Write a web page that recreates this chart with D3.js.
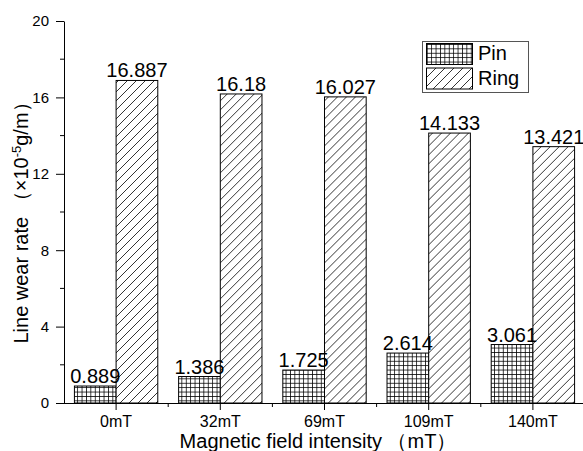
<!DOCTYPE html>
<html>
<head>
<meta charset="utf-8">
<title>Line wear rate</title>
<script src="https://cdn.jsdelivr.net/npm/d3@7"></script>
<style>
  body { margin: 0; background: #fff; }
  svg text { font-family: "Liberation Sans", Arial, sans-serif; fill: #000; }
</style>
</head>
<body>
<div id="chart"></div>
<script>
// data
var fields = ["0mT", "32mT", "69mT", "109mT", "140mT"];
var pin = [0.889, 1.386, 1.725, 2.614, 3.061];
var ring = [16.887, 16.18, 16.027, 14.133, 13.421];
var seriesNames = ["Pin", "Ring"];
var yTicks = [0, 4, 8, 12, 16, 20];
var yMinor = [2, 6, 10, 14, 18];

var W = 583, H = 451;
var svg = d3.select('#chart').append('svg')
    .attr('width', W).attr('height', H);

// patterns
var defs = svg.append('defs');
var grid = defs.append('pattern')
    .attr('id', 'grid')
    .attr('patternUnits', 'userSpaceOnUse')
    .attr('width', 4.4).attr('height', 4.4);
grid.append('rect').attr('width', 4.4).attr('height', 4.4).attr('fill', '#fff');
grid.append('path')
    .attr('d', 'M0,0.4 H4.4 M0.4,0 V4.4')
    .attr('stroke', '#000').attr('stroke-width', 0.8).attr('fill', 'none');

var hatch = defs.append('pattern')
    .attr('id', 'hatch')
    .attr('patternUnits', 'userSpaceOnUse')
    .attr('width', 9).attr('height', 9);
hatch.append('rect').attr('width', 9).attr('height', 9).attr('fill', '#fff');
hatch.append('path')
    .attr('d', 'M0,9 L9,0 M-2,2 L2,-2 M7,11 L11,7')
    .attr('stroke', '#000').attr('stroke-width', 0.8).attr('fill', 'none');

var fills = ['url(#grid)', 'url(#hatch)'];

// scales
var x = d3.scaleBand().domain(fields).range([64, 585]).padding(0);
var x1 = d3.scaleBand().domain(seriesNames).range([0, x.bandwidth()]).paddingOuter(0.25).paddingInner(0);
var y = d3.scaleLinear().domain([0, 20]).range([403, 21]);

// bars
var rows = fields.map(function(f, i) { return {field: f, vals: [pin[i], ring[i]]}; });
var groups = svg.selectAll('.grp').data(rows).enter().append('g')
    .attr('transform', function(d) { return 'translate(' + x(d.field) + ',0)'; });

groups.selectAll('rect').data(function(d) {
        return d.vals.map(function(v, j) { return {name: seriesNames[j], v: v, j: j}; });
    })
    .enter().append('rect')
    .attr('x', function(d) { return x1(d.name); })
    .attr('y', function(d) { return y(d.v); })
    .attr('width', x1.bandwidth())
    .attr('height', function(d) { return y(0) - y(d.v); })
    .attr('fill', function(d) { return fills[d.j]; })
    .attr('stroke', '#000')
    .attr('stroke-width', 1);

groups.selectAll('text.val').data(function(d) {
        return d.vals.map(function(v, j) { return {name: seriesNames[j], v: v}; });
    })
    .enter().append('text')
    .attr('class', 'val')
    .attr('x', function(d) { return x1(d.name) + x1.bandwidth() / 2; })
    .attr('y', function(d) { return y(d.v) - 3; })
    .attr('text-anchor', 'middle')
    .style('font-size', '20px')
    .text(function(d) { return d.v; });

// y axis
var yAxis = svg.append('g').attr('transform', 'translate(64,0)')
    .call(d3.axisLeft(y).tickValues(yTicks).tickSize(8).tickSizeOuter(0).tickPadding(7));
yAxis.selectAll('text').style('font-size', '15px');
yAxis.append('g').selectAll('line').data(yMinor).enter().append('line')
    .attr('x1', -4).attr('x2', 0)
    .attr('y1', function(d) { return y(d); }).attr('y2', function(d) { return y(d); })
    .attr('stroke', '#000');

// x axis
var xAxis = svg.append('g').attr('transform', 'translate(0,403)')
    .call(d3.axisBottom(x).tickSize(7).tickSizeOuter(0).tickPadding(6));
xAxis.select('.domain').attr('d', 'M64,0.5H583');
xAxis.selectAll('text').style('font-size', '16px');
xAxis.append('g').selectAll('line').data(fields.slice(1)).enter().append('line')
    .attr('x1', function(d) { return x(d); }).attr('x2', function(d) { return x(d); })
    .attr('y1', 0).attr('y2', 4)
    .attr('stroke', '#000');

svg.selectAll('.domain, .tick line').attr('stroke', '#000').attr('stroke-width', 1);

// axis titles
svg.append('text')
    .attr('x', 318).attr('y', 448)
    .attr('text-anchor', 'middle')
    .style('font-size', '20px')
    .text('Magnetic field intensity （mT）');

var yt = svg.append('text')
    .attr('transform', 'translate(28,218) rotate(-90)')
    .attr('text-anchor', 'middle')
    .style('font-size', '20px');
yt.append('tspan').text('Line wear rate （×10');
yt.append('tspan').attr('dy', -7).style('font-size', '13px').text('-5');
yt.append('tspan').attr('dy', 7).text('g/m）');

// legend
var leg = svg.append('g');
leg.append('rect')
    .attr('x', 422.5).attr('y', 41.5).attr('width', 106).attr('height', 51)
    .attr('fill', '#fff').attr('stroke', '#555').attr('stroke-width', 1);
seriesNames.forEach(function(s, i) {
    leg.append('rect')
        .attr('x', 426.5).attr('y', 43.5 + i * 24.5)
        .attr('width', 46).attr('height', 21)
        .attr('fill', fills[i]).attr('stroke', '#000');
    leg.append('text')
        .attr('x', 478).attr('y', 60 + i * 25)
        .style('font-size', '20px')
        .text(s);
});
</script>
</body>
</html>
